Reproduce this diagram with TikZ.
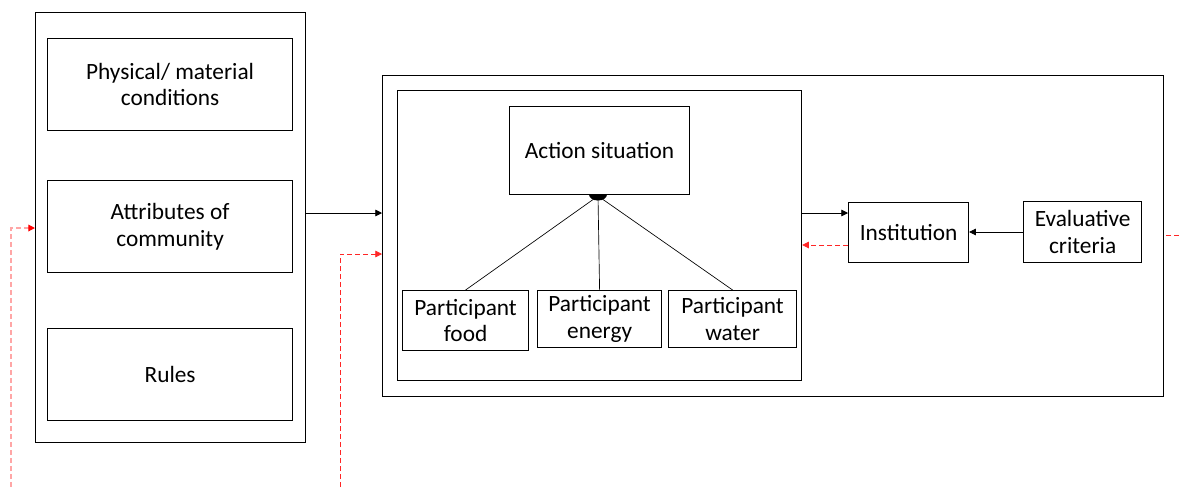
\documentclass[tikz,border=0pt]{standalone}
\usepackage{fontspec}
\setmainfont{Carlito}
\usetikzlibrary{arrows.meta}
\begin{document}
\begin{tikzpicture}[x=0.75pt,y=-0.75pt,
  box/.style={draw=black,line width=0.9pt,inner sep=0pt,align=center,font=\fontsize{17.5}{20}\selectfont},
  frame/.style={draw=black,line width=0.9pt},
  conn/.style={draw=black,line width=0.5pt,-{Triangle[length=5pt,width=5pt]}},
  plain/.style={draw=black,line width=0.5pt},
  feedback/.style={draw=red!85!white,line width=0.6pt,dash pattern=on 4pt off 2pt,-{Triangle[length=5pt,width=5pt]}},
  faint/.style={draw=red!35!white,line width=0.9pt,dash pattern=on 4pt off 2pt,-{Triangle[length=5pt,width=5pt,color=red]}}]
\useasboundingbox (0,0) rectangle (1179,487);

% context column
\node[frame,minimum width=270*0.75pt,minimum height=430*0.75pt,anchor=north west] (ctx) at (35,12) {};
\node[box,minimum width=245*0.75pt,minimum height=92*0.75pt,anchor=north west] (phys) at (47,38) {Physical/ material\\conditions};
\node[box,minimum width=245*0.75pt,minimum height=92*0.75pt,anchor=north west] (attr) at (47,180) {Attributes of\\community};
\node[box,minimum width=245*0.75pt,minimum height=92*0.75pt,anchor=north west] (rules) at (47,328) {Rules};

% action arena
\node[frame,minimum width=781*0.75pt,minimum height=321*0.75pt,anchor=north west] (arena) at (382,75) {};
\node[frame,minimum width=404*0.75pt,minimum height=290*0.75pt,anchor=north west] (inner) at (397,90) {};
\node[box,minimum width=180*0.75pt,minimum height=88*0.75pt,anchor=north west] (act) at (509,106) {Action situation};
\node[box,minimum width=126*0.75pt,minimum height=60*0.75pt,anchor=north west] (food) at (402,290) {Participant\\food};
\node[box,minimum width=124*0.75pt,minimum height=57*0.75pt,anchor=north west] (energy) at (537,290) {Participant\\energy};
\node[box,minimum width=128*0.75pt,minimum height=57*0.75pt,anchor=north west] (water) at (668,290) {Participant\\water};
\node[box,minimum width=120*0.75pt,minimum height=60*0.75pt,anchor=north west] (inst) at (848,202) {Institution};
\node[box,minimum width=118*0.75pt,minimum height=61*0.75pt,anchor=north west] (eval) at (1023,201) {Evaluative\\criteria};

% participants joined to the action situation
\coordinate (hub) at (598,196);
\draw[plain] (food.north) -- (hub);
\draw[plain] (energy.north) -- (hub);
\draw[plain] (water.north) -- (hub);
\fill[black] (589,194.5) arc[start angle=180,end angle=360,x radius=9,y radius=-6] -- cycle;

% flows
\coordinate (ctxout) at (ctx.east |- 0,213);
\coordinate (arenain) at (arena.west |- 0,213);
\draw[conn] (ctxout) -- (arenain);
\draw[conn] (inner.east |- 0,213) -- (inst.west |- 0,213);
\draw[feedback] (inst.west |- 0,245) -- (inner.east |- 0,245);
\draw[conn] (eval.west |- 0,232) -- (inst.east |- 0,232);

% dashed feedback loops
\coordinate (fb1) at (340,487);
\draw[feedback] (fb1) -- (340,254) -- (arena.west |- 0,254);
\coordinate (fb2) at (11,487);
\draw[faint] (fb2) -- (11,228) -- (ctx.west |- 0,228);
\coordinate (fb3) at (1179,235);
\draw[feedback,-] (fb3) -- (arena.east |- 0,235);
\end{tikzpicture}
\end{document}
